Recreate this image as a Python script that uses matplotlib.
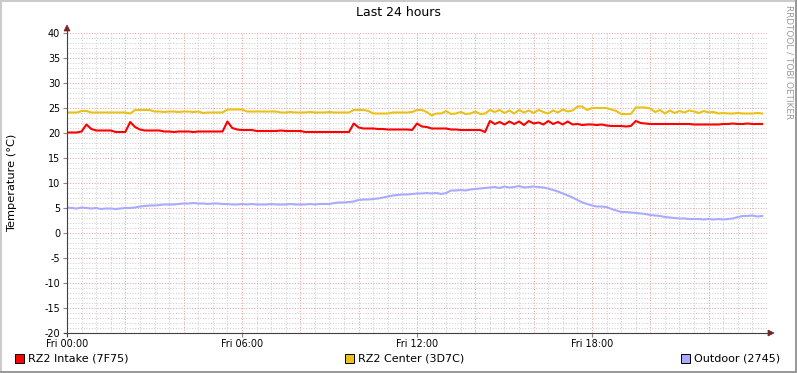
import numpy as np
import matplotlib
matplotlib.use("Agg")
import matplotlib.pyplot as plt
from matplotlib.patches import Rectangle, Polygon
from matplotlib.lines import Line2D

plt.rcParams["axes.unicode_minus"] = False

# ---- data (10-minute samples over 24 h) ----
intake = [
    20.1, 20.1, 20.1, 20.3, 21.7, 20.8, 20.5, 20.5, 20.5, 20.5,
    20.2, 20.2, 20.2, 22.2, 21.2, 20.7, 20.5, 20.5, 20.5, 20.5,
    20.3, 20.3, 20.2, 20.3, 20.3, 20.3, 20.2, 20.3, 20.3, 20.3,
    20.3, 20.3, 20.3, 22.3, 21.0, 20.7, 20.6, 20.6, 20.6, 20.4,
    20.4, 20.4, 20.4, 20.4, 20.5, 20.4, 20.4, 20.4, 20.4, 20.2,
    20.2, 20.2, 20.2, 20.2, 20.2, 20.2, 20.2, 20.2, 20.2, 21.9,
    21.1, 20.9, 20.9, 20.9, 20.8, 20.8, 20.7, 20.7, 20.7, 20.7,
    20.7, 20.6, 21.9, 21.3, 21.2, 20.9, 20.9, 20.9, 20.9, 20.7,
    20.7, 20.6, 20.6, 20.6, 20.6, 20.6, 20.2, 22.4, 21.8, 22.2,
    21.7, 22.3, 21.8, 22.3, 21.6, 22.4, 21.9, 22.1, 21.7, 22.4,
    21.8, 22.2, 21.7, 22.3, 21.7, 21.8, 21.6, 21.7, 21.7, 21.6,
    21.7, 21.5, 21.4, 21.4, 21.4, 21.3, 21.4, 22.4, 22.0, 21.9,
    21.8, 21.8, 21.8, 21.8, 21.8, 21.8, 21.8, 21.8, 21.8, 21.7,
    21.7, 21.7, 21.7, 21.7, 21.7, 21.8, 21.8, 21.9, 21.8, 21.8,
    21.9, 21.8, 21.8, 21.8,
]
center = [
    24.1, 24.1, 24.1, 24.4, 24.4, 24.1, 24.1, 24.1, 24.1, 24.1,
    24.1, 24.1, 24.1, 23.9, 24.6, 24.6, 24.6, 24.6, 24.3, 24.3,
    24.2, 24.3, 24.3, 24.2, 24.3, 24.3, 24.2, 24.3, 24.0, 24.1,
    24.1, 24.1, 24.1, 24.7, 24.7, 24.7, 24.7, 24.3, 24.3, 24.3,
    24.3, 24.3, 24.3, 24.3, 24.1, 24.1, 24.2, 24.1, 24.1, 24.1,
    24.2, 24.1, 24.1, 24.1, 24.2, 24.1, 24.1, 24.1, 24.1, 24.6,
    24.6, 24.6, 24.4, 23.9, 23.9, 23.9, 23.9, 24.1, 24.1, 24.1,
    24.1, 24.2, 24.6, 24.6, 24.2, 23.5, 23.9, 23.9, 24.4, 23.8,
    23.9, 24.2, 23.8, 23.9, 24.3, 23.8, 23.9, 24.6, 24.2, 24.6,
    24.0, 24.5, 23.9, 24.6, 24.1, 24.5, 24.0, 24.6, 24.2, 23.9,
    24.5, 24.1, 24.7, 24.3, 24.5, 25.3, 25.3, 24.6, 25.0, 25.0,
    25.0, 25.0, 24.7, 24.4, 23.8, 23.8, 23.8, 25.1, 25.1, 25.1,
    24.9, 24.2, 24.6, 23.9, 24.5, 24.0, 24.4, 24.1, 24.5, 24.3,
    24.0, 24.4, 24.1, 24.2, 23.9, 24.0, 23.9, 23.9, 24.0, 23.9,
    23.9, 23.9, 24.0, 23.9,
]
outdoor = [
    5.1, 5.0, 4.9, 5.1, 5.0, 4.9, 5.0, 4.8, 4.9, 4.9,
    4.8, 4.9, 5.0, 5.0, 5.1, 5.3, 5.4, 5.5, 5.5, 5.6,
    5.7, 5.7, 5.7, 5.8, 5.9, 5.9, 6.0, 5.9, 5.9, 5.8,
    5.9, 5.9, 5.8, 5.8, 5.7, 5.7, 5.8, 5.7, 5.8, 5.7,
    5.7, 5.7, 5.8, 5.7, 5.7, 5.7, 5.8, 5.7, 5.7, 5.7,
    5.8, 5.7, 5.8, 5.8, 5.8, 6.0, 6.1, 6.1, 6.2, 6.3,
    6.6, 6.7, 6.7, 6.8, 6.9, 7.1, 7.3, 7.5, 7.6, 7.7,
    7.7, 7.8, 7.9, 7.9, 8.0, 7.9, 8.0, 7.8, 8.0, 8.5,
    8.5, 8.6, 8.5, 8.7, 8.8, 8.9, 9.0, 9.1, 9.2, 9.0,
    9.3, 9.1, 9.2, 9.4, 9.1, 9.2, 9.3, 9.2, 9.1, 8.9,
    8.6, 8.3, 7.9, 7.5, 7.1, 6.6, 6.1, 5.8, 5.5, 5.3,
    5.3, 5.2, 4.8, 4.5, 4.2, 4.2, 4.1, 4.0, 3.9, 3.8,
    3.6, 3.5, 3.4, 3.2, 3.1, 3.0, 2.9, 2.9, 2.8, 2.8,
    2.8, 2.7, 2.8, 2.7, 2.8, 2.7, 2.8, 2.9, 3.2, 3.4,
    3.4, 3.5, 3.3, 3.4,
]
hours = np.arange(len(intake)) / 6.0
x_ticks = [0, 6, 12, 18]
x_labels = ["Fri 00:00", "Fri 06:00", "Fri 12:00", "Fri 18:00"]
y_ticks = list(range(-20, 41, 5))
series_names = ["RZ2 Intake (7F75)", "RZ2 Center (3D7C)", "Outdoor (2745)"]
series_colors = ["#FF0000", "#EAC117", "#AAAAFF"]

W, H = 797, 373
fig = plt.figure(figsize=(W / 100, H / 100), dpi=100, facecolor="white")

ax = fig.add_axes([67 / W, (H - 333) / H, 700 / W, 300 / H])
ax.set_facecolor("white")
ax.set_xlim(0, 24)
ax.set_ylim(-20, 40)
for s in ax.spines.values():
    s.set_visible(False)

dot = (0, (1, 1.6))
# minor grid
for v in np.arange(0.5, 24, 0.5):
    if v % 2:
        ax.axvline(v, color="#cfcfcf", lw=0.75, ls=dot, zorder=0)
for v in range(-19, 40):
    if v % 5:
        ax.axhline(v, color="#cfcfcf", lw=0.75, ls=dot, zorder=0)
# major grid
for v in range(2, 25, 2):
    ax.axvline(v, color="#e9a3a3", lw=0.75, ls=dot, zorder=0.5)
for v in range(-15, 41, 5):
    ax.axhline(v, color="#e9a3a3", lw=0.75, ls=dot, zorder=0.5)

ax.set_xticks(x_ticks)
ax.set_xticklabels(x_labels)
ax.set_yticks(y_ticks)
ax.tick_params(axis="both", length=3, width=0.8, color="#888888", labelsize=6.9, pad=1)
ax.tick_params(axis="y", pad=2)

ax.plot(hours, outdoor, color=series_colors[2], lw=1.5, zorder=3)
ax.plot(hours, intake, color=series_colors[0], lw=1.5, zorder=4)
ax.plot(hours, center, color=series_colors[1], lw=1.5, zorder=4)

# axes lines with arrows (figure pixel coordinates)
def px(x, y):
    return (x / W, 1 - y / H)

axis_col = "#404040"
arrow_col = "#7f1f1f"
fig.add_artist(Line2D(*zip(px(67, 336), px(67, 27)), color=axis_col, lw=0.8))
fig.add_artist(Line2D(*zip(px(64, 333), px(772, 333)), color=axis_col, lw=0.8))
fig.add_artist(Polygon([px(64, 31), px(70, 31), px(67, 25)], closed=True,
                       facecolor=arrow_col, edgecolor=arrow_col, lw=0.5))
fig.add_artist(Polygon([px(768, 330), px(768, 336), px(774, 333)], closed=True,
                       facecolor=arrow_col, edgecolor=arrow_col, lw=0.5))

ax.set_ylabel("Temperature (°C)", fontsize=8.2)
ax.yaxis.set_label_coords(-50 / 700, 0.5)
fig.text(398 / W, 1 - 13 / H, "Last 24 hours", ha="center", va="center", fontsize=9)
fig.text(789 / W, 1 - 5 / H, "RRDTOOL / TOBI OETIKER", rotation=270, ha="center",
         va="top", fontsize=6.4, color="#999999")

# legend
legend_pos = [15, 345, 681]
for name, col, lx in zip(series_names, series_colors, legend_pos):
    fig.add_artist(Rectangle(px(lx, 363), 9 / W, 9 / H, facecolor=col,
                             edgecolor="black", lw=0.7))
    fig.text((lx + 13) / W, 1 - 358.5 / H, name, ha="left", va="center", fontsize=8)

# 3D frame
fig.add_artist(Rectangle((0, 0), 1, 2 / H, facecolor="#999999", edgecolor="none"))
fig.add_artist(Rectangle((1 - 2 / W, 0), 2 / W, 1, facecolor="#999999", edgecolor="none"))
fig.add_artist(Rectangle((0, 1 - 2 / H), 1 - 2 / W, 2 / H, facecolor="#cbcbcb", edgecolor="none"))
fig.add_artist(Rectangle((0, 2 / H), 2 / W, 1 - 4 / H, facecolor="#cbcbcb", edgecolor="none"))

fig.savefig("out.png", dpi=100, facecolor="white")
